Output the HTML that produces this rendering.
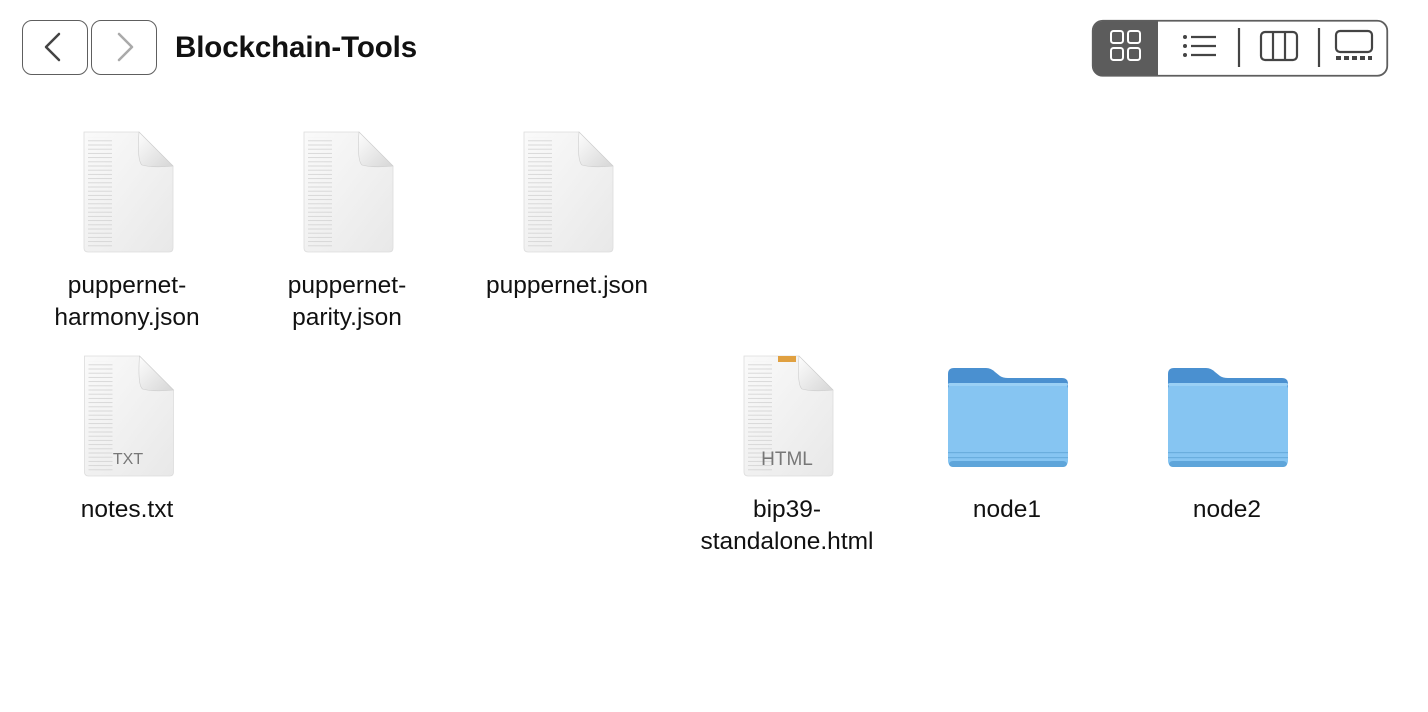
<!DOCTYPE html>
<html><head><meta charset="utf-8"><style>
body{margin:0;width:1428px;height:712px;background:#fff;position:relative;overflow:hidden;font-family:"Liberation Sans",sans-serif;}
.abs{position:absolute}
.btn{position:absolute;top:20px;width:66px;height:55px;border:1.8px solid #5e5e5e;border-radius:10px;box-sizing:border-box}
.lbl{position:absolute;width:220px;text-align:center;font-size:24.5px;line-height:32px;color:#111}
</style></head><body>
<div class="btn" style="left:22px"></div>
<div class="btn" style="left:91px"></div>
<svg class="abs" style="left:0;top:0" width="200" height="90">
<polyline points="59,34 46,47 59,60" fill="none" stroke="#444" stroke-width="2.5" stroke-linecap="round" stroke-linejoin="round"/>
<polyline points="119,34 132,47 119,60" fill="none" stroke="#aaa" stroke-width="2.5" stroke-linecap="round" stroke-linejoin="round"/>
</svg>
<div class="abs" style="left:175px;top:31px;font-size:29.5px;font-weight:bold;color:#111;letter-spacing:-0.1px">Blockchain-Tools</div>

<svg class="abs" style="left:1090px;top:18px" width="300" height="62">
<rect x="2.75" y="2.75" width="294.5" height="55" rx="10" fill="#fff" stroke="#5e5e5e" stroke-width="1.8"/>
<path d="M12.5,3.5 H68 V57.25 H12.5 A9,9 0 0 1 3.5,48.25 V12.5 A9,9 0 0 1 12.5,3.5Z" fill="#5c5c5c"/>
<g fill="none" stroke="#fff" stroke-width="2">
<rect x="21" y="13" width="12" height="12" rx="2.5"/><rect x="38" y="13" width="12" height="12" rx="2.5"/>
<rect x="21" y="30" width="12" height="12" rx="2.5"/><rect x="38" y="30" width="12" height="12" rx="2.5"/></g>
<g fill="#444"><circle cx="95" cy="19" r="2"/><circle cx="95" cy="28" r="2"/><circle cx="95" cy="37" r="2"/></g>
<g stroke="#444" stroke-width="2.2"><line x1="101" y1="19" x2="126" y2="19"/><line x1="101" y1="28" x2="126" y2="28"/><line x1="101" y1="37" x2="126" y2="37"/>
<line x1="149" y1="10" x2="149" y2="49"/><line x1="229" y1="10" x2="229" y2="49"/></g>
<g fill="none" stroke="#444" stroke-width="2.2"><rect x="171" y="14" width="36" height="28" rx="4"/><line x1="183" y1="14" x2="183" y2="42"/><line x1="195" y1="14" x2="195" y2="42"/>
<rect x="246" y="13" width="36" height="21" rx="4"/></g>
<g fill="#444"><rect x="246" y="38" width="5" height="4"/><rect x="254" y="38" width="5" height="4"/><rect x="262" y="38" width="5" height="4"/><rect x="270" y="38" width="5" height="4"/><rect x="278" y="38" width="4" height="4"/></g>
</svg>

<svg width="0" height="0" style="position:absolute">
<defs>
<linearGradient id="pg" x1="0" y1="0" x2="1" y2="1"><stop offset="0" stop-color="#fafafa"/><stop offset="1" stop-color="#e8e8e8"/></linearGradient>
<linearGradient id="fg" x1="0" y1="0" x2="1" y2="1"><stop offset="0" stop-color="#fdfdfd"/><stop offset="1" stop-color="#d6d6d6"/></linearGradient>
<pattern id="ln" width="90" height="4.2" patternUnits="userSpaceOnUse"><rect x="0" y="1" width="30" height="0.8" fill="#d2d2d2"/></pattern>
<symbol id="doc" viewBox="0 0 92 122">
<path d="M2,1 H57 L91,35 V117 Q91,121 87,121 H6 Q2,121 2,117Z" fill="url(#pg)" stroke="#dcdcdc" stroke-width="0.8"/>
<rect x="6" y="6" width="30" height="110" fill="url(#ln)"/>
<path d="M57,1 Q55,30 60,34 Q70,37 91,35Z" fill="url(#fg)" stroke="#ccc" stroke-width="0.6"/>
</symbol>
<symbol id="fold" viewBox="0 0 120 100">
<path d="M6,1 H38 Q43,1 47,5 L52,9 Q55,11 60,11 H114 Q120,11 120,17 V90 H0 V7 Q0,1 6,1Z" fill="#4a90d0"/>
<rect x="0" y="16" width="120" height="84" rx="6" fill="#86c5f2"/>
<rect x="0" y="16" width="120" height="3" rx="2" fill="#9ad0f5"/>
<rect x="0" y="85" width="120" height="1.2" fill="#6aaede"/><rect x="0" y="90" width="120" height="1.2" fill="#6aaede"/>
<rect x="1" y="94" width="118" height="6" rx="4" fill="#5ea5da"/>
</symbol>
</defs></svg>

<svg class="abs" style="left:82px;top:131px" width="92" height="122"><use href="#doc"/></svg>
<svg class="abs" style="left:302px;top:131px" width="92" height="122"><use href="#doc"/></svg>
<svg class="abs" style="left:522px;top:131px" width="92" height="122"><use href="#doc"/></svg>
<svg class="abs" style="left:81px;top:355px" width="95" height="122"><use href="#doc" width="95" height="122" preserveAspectRatio="none"/>
<text x="47" y="109" font-family="Liberation Sans" font-size="16" fill="#777" text-anchor="middle">TXT</text></svg>
<svg class="abs" style="left:742px;top:355px" width="92" height="122"><use href="#doc"/>
<rect x="36" y="1" width="18" height="6" fill="#e0a040"/>
<text x="45" y="110" font-family="Liberation Sans" font-size="19" fill="#777" text-anchor="middle">HTML</text></svg>
<svg class="abs" style="left:948px;top:367px" width="120" height="100"><use href="#fold"/></svg>
<svg class="abs" style="left:1168px;top:367px" width="120" height="100"><use href="#fold"/></svg>

<div class="lbl" style="left:17px;top:270px">puppernet-<br>harmony.json</div>
<div class="lbl" style="left:237px;top:270px">puppernet-<br>parity.json</div>
<div class="lbl" style="left:457px;top:270px">puppernet.json</div>
<div class="lbl" style="left:17px;top:494px">notes.txt</div>
<div class="lbl" style="left:677px;top:494px">bip39-<br>standalone.html</div>
<div class="lbl" style="left:897px;top:494px">node1</div>
<div class="lbl" style="left:1117px;top:494px">node2</div>
</body></html>
